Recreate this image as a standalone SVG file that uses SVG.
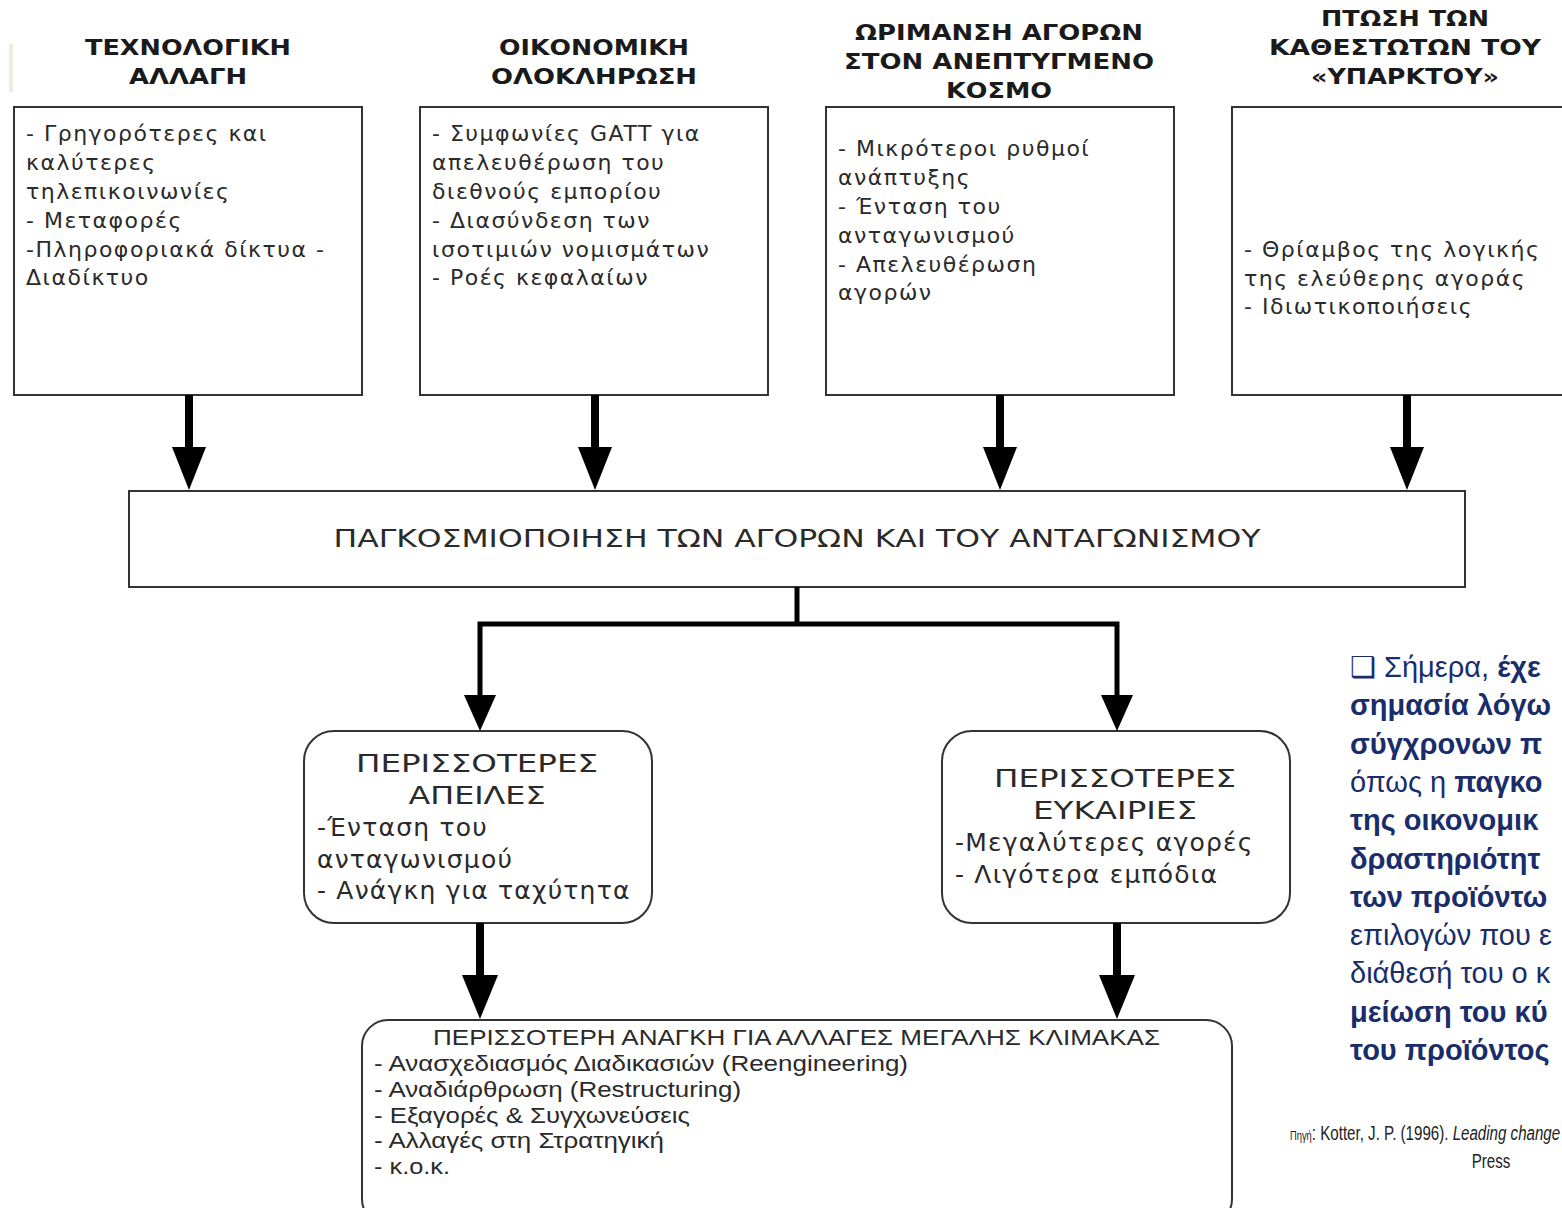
<svg xmlns="http://www.w3.org/2000/svg" width="1562" height="1208" viewBox="0 0 1562 1208">
<style>
.box{fill:#fff;stroke:#333;stroke-width:2}
.hdr{font-family:"DejaVu Sans","Liberation Sans",sans-serif;font-weight:bold;font-size:22px;fill:#1a1a1a;text-anchor:middle}
.body{font-family:"DejaVu Sans","Liberation Sans",sans-serif;font-size:22px;letter-spacing:1.5px;fill:#2a2a2a}
.big{font-family:"DejaVu Sans","Liberation Sans",sans-serif;font-size:25px;fill:#2a2a2a}
.ls{letter-spacing:1.2px}
.nar{font-family:"Liberation Sans",Arial,sans-serif;font-size:22px;fill:#2a2a2a}
.side{font-family:"Liberation Sans",Arial,sans-serif;font-size:29px;fill:#1a2d6b}
.src{font-family:"Liberation Sans",Arial,sans-serif;font-size:21px;fill:#222}
.b{font-weight:bold}
.shaft{stroke:#000;stroke-width:8;fill:none}
.line{stroke:#000;stroke-width:5;fill:none}
.head{fill:#000}
</style>
<rect x="0" y="0" width="1562" height="1208" fill="#fff"/>
<rect x="9" y="44" width="4" height="48" fill="#eceedd"/>

<g id="hdr-tech">
<text class="hdr" x="188" y="55" textLength="206" lengthAdjust="spacingAndGlyphs">ΤΕΧΝΟΛΟΓΙΚΗ</text>
<text class="hdr" x="188" y="84" textLength="118" lengthAdjust="spacingAndGlyphs">ΑΛΛΑΓΗ</text>
</g>
<g id="hdr-econ">
<text class="hdr" x="594" y="55" textLength="190" lengthAdjust="spacingAndGlyphs">ΟΙΚΟΝΟΜΙΚΗ</text>
<text class="hdr" x="594" y="84" textLength="206" lengthAdjust="spacingAndGlyphs">ΟΛΟΚΛΗΡΩΣΗ</text>
</g>
<g id="hdr-mat">
<text class="hdr" x="999" y="40" textLength="288" lengthAdjust="spacingAndGlyphs">ΩΡΙΜΑΝΣΗ ΑΓΟΡΩΝ</text>
<text class="hdr" x="999" y="69" textLength="310" lengthAdjust="spacingAndGlyphs">ΣΤΟΝ ΑΝΕΠΤΥΓΜΕΝΟ</text>
<text class="hdr" x="999" y="98" textLength="106" lengthAdjust="spacingAndGlyphs">ΚΟΣΜΟ</text>
</g>
<g id="hdr-fall">
<text class="hdr" x="1405" y="26" textLength="168" lengthAdjust="spacingAndGlyphs">ΠΤΩΣΗ ΤΩΝ</text>
<text class="hdr" x="1405" y="55" textLength="272" lengthAdjust="spacingAndGlyphs">ΚΑΘΕΣΤΩΤΩΝ ΤΟΥ</text>
<text class="hdr" x="1405" y="84" textLength="188" lengthAdjust="spacingAndGlyphs">«ΥΠΑΡΚΤΟΥ»</text>
</g>

<g id="box-tech">
<rect class="box" x="14" y="107" width="348" height="288"/>
<text class="body" x="26" y="141">- Γρηγορότερες και</text>
<text class="body" x="26" y="170">καλύτερες</text>
<text class="body" x="26" y="199">τηλεπικοινωνίες</text>
<text class="body" x="26" y="228">- Μεταφορές</text>
<text class="body" x="26" y="257">-Πληροφοριακά δίκτυα -</text>
<text class="body" x="26" y="285">Διαδίκτυο</text>
</g>
<g id="box-econ">
<rect class="box" x="420" y="107" width="348" height="288"/>
<text class="body" x="432" y="141">- Συμφωνίες GATT για</text>
<text class="body" x="432" y="170">απελευθέρωση του</text>
<text class="body" x="432" y="199">διεθνούς εμπορίου</text>
<text class="body" x="432" y="228">- Διασύνδεση των</text>
<text class="body" x="432" y="257">ισοτιμιών νομισμάτων</text>
<text class="body" x="432" y="285">- Ροές κεφαλαίων</text>
</g>
<g id="box-mat">
<rect class="box" x="826" y="107" width="348" height="288"/>
<text class="body" x="838" y="156">- Μικρότεροι ρυθμοί</text>
<text class="body" x="838" y="185">ανάπτυξης</text>
<text class="body" x="838" y="214">- Ένταση του</text>
<text class="body" x="838" y="243">ανταγωνισμού</text>
<text class="body" x="838" y="272">- Απελευθέρωση</text>
<text class="body" x="838" y="300">αγορών</text>
</g>
<g id="box-fall">
<rect class="box" x="1232" y="107" width="348" height="288"/>
<text class="body" x="1244" y="257">- Θρίαμβος της λογικής</text>
<text class="body" x="1244" y="286">της ελεύθερης αγοράς</text>
<text class="body" x="1244" y="314">- Ιδιωτικοποιήσεις</text>
</g>

<g id="box-global">
<rect class="box" x="129" y="491" width="1336" height="96"/>
<text class="big" x="797" y="547" text-anchor="middle" textLength="927" lengthAdjust="spacingAndGlyphs">ΠΑΓΚΟΣΜΙΟΠΟΙΗΣΗ ΤΩΝ ΑΓΟΡΩΝ ΚΑΙ ΤΟΥ ΑΝΤΑΓΩΝΙΣΜΟΥ</text>
</g>

<g id="box-threats">
<rect class="box" x="304" y="731" width="348" height="192" rx="30" ry="30"/>
<text class="big" x="477" y="772" text-anchor="middle" textLength="242" lengthAdjust="spacingAndGlyphs">ΠΕΡΙΣΣΟΤΕΡΕΣ</text>
<text class="big" x="477" y="804" text-anchor="middle" textLength="137" lengthAdjust="spacingAndGlyphs">ΑΠΕΙΛΕΣ</text>
<text class="big ls" x="317" y="836">-Ένταση του</text>
<text class="big ls" x="317" y="868">ανταγωνισμού</text>
<text class="big ls" x="317" y="899">- Ανάγκη για ταχύτητα</text>
</g>
<g id="box-opps">
<rect class="box" x="942" y="731" width="348" height="192" rx="30" ry="30"/>
<text class="big" x="1115" y="787" text-anchor="middle" textLength="242" lengthAdjust="spacingAndGlyphs">ΠΕΡΙΣΣΟΤΕΡΕΣ</text>
<text class="big" x="1115" y="819" text-anchor="middle" textLength="164" lengthAdjust="spacingAndGlyphs">ΕΥΚΑΙΡΙΕΣ</text>
<text class="big ls" x="955" y="851">-Μεγαλύτερες αγορές</text>
<text class="big ls" x="955" y="883">- Λιγότερα εμπόδια</text>
</g>

<g id="box-change">
<rect class="box" x="362" y="1020" width="870" height="205" rx="26" ry="26"/>
<text class="nar" x="433" y="1045" textLength="727" lengthAdjust="spacingAndGlyphs">ΠΕΡΙΣΣΟΤΕΡΗ ΑΝΑΓΚΗ ΓΙΑ ΑΛΛΑΓΕΣ ΜΕΓΑΛΗΣ ΚΛΙΜΑΚΑΣ</text>
<text class="nar" x="374" y="1071" textLength="534" lengthAdjust="spacingAndGlyphs">- Ανασχεδιασμός Διαδικασιών (Reengineering)</text>
<text class="nar" x="374" y="1097" textLength="367" lengthAdjust="spacingAndGlyphs">- Αναδιάρθρωση (Restructuring)</text>
<text class="nar" x="374" y="1123" textLength="316" lengthAdjust="spacingAndGlyphs">- Εξαγορές &amp; Συγχωνεύσεις</text>
<text class="nar" x="374" y="1148" textLength="290" lengthAdjust="spacingAndGlyphs">- Αλλαγές στη Στρατηγική</text>
<text class="nar" x="374" y="1174" textLength="76" lengthAdjust="spacingAndGlyphs">- κ.ο.κ.</text>
</g>

<g id="connectors">
<line class="shaft" x1="189" y1="395" x2="189" y2="452"/>
<polygon class="head" points="172,447 206,447 189,490"/>
<line class="shaft" x1="595" y1="395" x2="595" y2="452"/>
<polygon class="head" points="578,447 612,447 595,490"/>
<line class="shaft" x1="1000" y1="395" x2="1000" y2="452"/>
<polygon class="head" points="983,447 1017,447 1000,490"/>
<line class="shaft" x1="1407" y1="395" x2="1407" y2="452"/>
<polygon class="head" points="1390,447 1424,447 1407,490"/>

<polyline class="line" points="797,587 797,624"/>
<polyline class="line" points="480,700 480,624 1117,624 1117,700"/>
<polygon class="head" points="464,695 496,695 480,731"/>
<polygon class="head" points="1101,695 1133,695 1117,731"/>

<line class="shaft" x1="480" y1="923" x2="480" y2="980"/>
<polygon class="head" points="462,975 498,975 480,1019"/>
<line class="shaft" x1="1117" y1="923" x2="1117" y2="980"/>
<polygon class="head" points="1099,975 1135,975 1117,1019"/>
</g>

<g id="side-text">
<text class="side" x="1350" y="677">❑ Σήμερα, <tspan class="b">έχε</tspan></text>
<text class="side b" x="1350" y="715">σημασία λόγω</text>
<text class="side b" x="1350" y="754">σύγχρονων π</text>
<text class="side" x="1350" y="792">όπως η <tspan class="b">παγκο</tspan></text>
<text class="side b" x="1350" y="830">της οικονομικ</text>
<text class="side b" x="1350" y="869">δραστηριότητ</text>
<text class="side b" x="1350" y="907">των προϊόντω</text>
<text class="side" x="1350" y="945">επιλογών που ε</text>
<text class="side" x="1350" y="983">διάθεσή του ο κ</text>
<text class="side b" x="1350" y="1022">μείωση του κύ</text>
<text class="side b" x="1350" y="1060">του προϊόντος</text>
</g>

<g id="source">
<text class="src" transform="translate(1290,1140) scale(0.72,1)"><tspan font-size="13">Πηγή</tspan>: Kotter, J. P. (1996). <tspan font-style="italic">Leading change</tspan></text>
<text class="src" transform="translate(1491,1168) scale(0.72,1)" text-anchor="middle">Press</text>
</g>
</svg>
